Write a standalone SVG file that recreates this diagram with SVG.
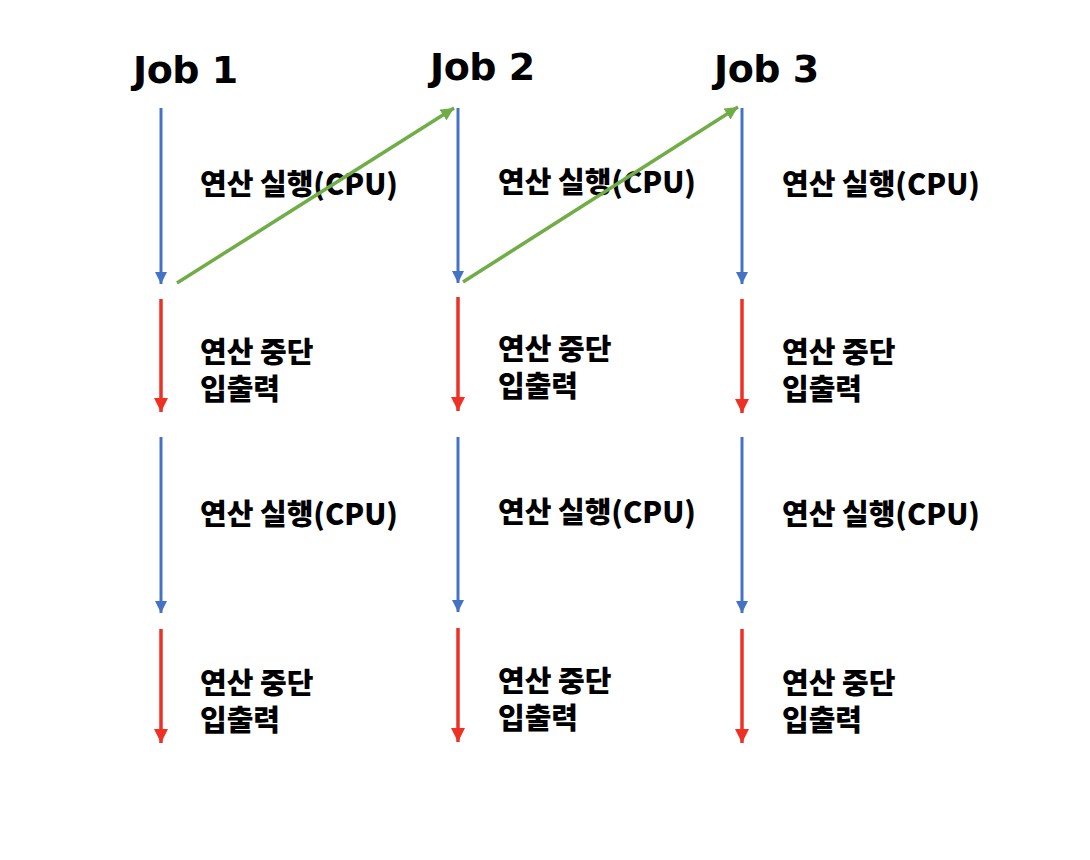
<svg xmlns="http://www.w3.org/2000/svg" width="1090" height="860" viewBox="0 0 1090 860">
<style>
.job{font-family:"DejaVu Sans","Liberation Sans",sans-serif;font-weight:bold;font-size:38px;letter-spacing:-0.5px;fill:#000}
.lbl{font-family:"Noto Sans CJK KR","Noto Sans",sans-serif;font-weight:900;font-size:29px;fill:#000}
.b{stroke:#4472C4;stroke-width:3;fill:none;marker-end:url(#mb)}
.r{stroke:#EE3124;stroke-width:3.5;fill:none;marker-end:url(#mr)}
.g{stroke:#70AD47;stroke-width:3.5;fill:none;marker-end:url(#mg)}
</style>
<defs>
<marker id="mb" viewBox="0 0 10 10" refX="10" refY="5" markerWidth="12" markerHeight="12" markerUnits="userSpaceOnUse" orient="auto"><path d="M0,0 L10,5 L0,10 z" fill="#4472C4"/></marker>
<marker id="mr" viewBox="0 0 10 10" refX="10" refY="5" markerWidth="14" markerHeight="14" markerUnits="userSpaceOnUse" orient="auto"><path d="M0,0 L10,5 L0,10 z" fill="#EE3124"/></marker>
<marker id="mg" viewBox="0 0 10 10" refX="10" refY="5" markerWidth="13" markerHeight="13" markerUnits="userSpaceOnUse" orient="auto"><path d="M0,0 L10,5 L0,10 z" fill="#70AD47"/></marker>
</defs>
<rect width="1090" height="860" fill="#fff"/>
<g id="job1">
<text class="job" x="133" y="83">Job 1</text>
<text class="lbl" x="200" y="195">연산 실행(CPU)</text>
<text class="lbl" x="200" y="363">연산 중단<tspan x="200" dy="37">입출력</tspan></text>
<text class="lbl" x="200" y="525">연산 실행(CPU)</text>
<text class="lbl" x="200" y="694">연산 중단<tspan x="200" dy="37">입출력</tspan></text>
</g>
<g id="job2">
<text class="job" x="430" y="80">Job 2</text>
<text class="lbl" x="498" y="193">연산 실행(CPU)</text>
<text class="lbl" x="498" y="360">연산 중단<tspan x="498" dy="37">입출력</tspan></text>
<text class="lbl" x="498" y="523">연산 실행(CPU)</text>
<text class="lbl" x="498" y="692">연산 중단<tspan x="498" dy="37">입출력</tspan></text>
</g>
<g id="job3">
<text class="job" x="714" y="82">Job 3</text>
<text class="lbl" x="782" y="195">연산 실행(CPU)</text>
<text class="lbl" x="782" y="363">연산 중단<tspan x="782" dy="37">입출력</tspan></text>
<text class="lbl" x="782" y="525">연산 실행(CPU)</text>
<text class="lbl" x="782" y="694">연산 중단<tspan x="782" dy="37">입출력</tspan></text>
</g>
<g id="connectors">
<line class="b" x1="161" y1="108" x2="161" y2="284"/>
<line class="r" x1="161" y1="299" x2="161" y2="412"/>
<line class="b" x1="161" y1="437" x2="161" y2="613"/>
<line class="r" x1="161" y1="629" x2="161" y2="743"/>
<line class="b" x1="458" y1="108" x2="458" y2="283"/>
<line class="r" x1="458" y1="297" x2="458" y2="411"/>
<line class="b" x1="458" y1="437" x2="458" y2="612"/>
<line class="r" x1="458" y1="628" x2="458" y2="742"/>
<line class="b" x1="742" y1="108" x2="742" y2="284"/>
<line class="r" x1="742" y1="299" x2="742" y2="413"/>
<line class="b" x1="742" y1="437" x2="742" y2="613"/>
<line class="r" x1="742" y1="629" x2="742" y2="743"/>
<line class="g" x1="177" y1="283" x2="454" y2="108"/>
<line class="g" x1="463" y1="282" x2="738" y2="107"/>
</g>
</svg>
